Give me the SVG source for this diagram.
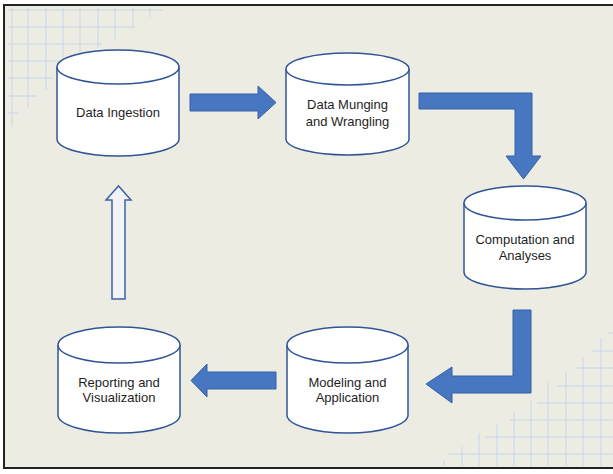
<svg xmlns="http://www.w3.org/2000/svg" width="613" height="474" viewBox="0 0 613 474">
<style>
.cyl{fill:#ffffff;stroke:#2f5597;stroke-width:1.5}
.arr{fill:#4677c0;stroke:#3561a8;stroke-width:1}
.hol{fill:#f3f3f5;stroke:#3b63a6;stroke-width:1.5}
.grid line{stroke:#c6d6ea;stroke-width:1}
text{font-family:"Liberation Sans",Arial,sans-serif;font-size:13px;fill:#1e1e1e;text-anchor:middle}
</style>
<rect x="0" y="0" width="613" height="474" fill="#ffffff"/>
<rect x="4" y="5" width="620" height="463" fill="#edece2" stroke="#222222" stroke-width="2"/>
<g class="grid">
<line x1="8" y1="10" x2="163" y2="10"/>
<line x1="8" y1="27" x2="135" y2="27"/>
<line x1="8" y1="44" x2="102" y2="44"/>
<line x1="8" y1="61" x2="88" y2="61"/>
<line x1="8" y1="78" x2="53" y2="78"/>
<line x1="8" y1="96" x2="37" y2="96"/>
<line x1="8" y1="113" x2="18" y2="113"/>
<line x1="12" y1="8" x2="12" y2="127"/>
<line x1="28" y1="8" x2="28" y2="108"/>
<line x1="46" y1="8" x2="46" y2="90"/>
<line x1="63" y1="8" x2="63" y2="73"/>
<line x1="80" y1="8" x2="80" y2="60"/>
<line x1="98" y1="8" x2="98" y2="48"/>
<line x1="115" y1="8" x2="115" y2="40"/>
<line x1="133" y1="8" x2="133" y2="27"/>
<line x1="150" y1="8" x2="150" y2="17"/>
<line x1="448" y1="454" x2="613" y2="454"/>
<line x1="485" y1="437" x2="613" y2="437"/>
<line x1="510" y1="420" x2="613" y2="420"/>
<line x1="537" y1="403" x2="613" y2="403"/>
<line x1="557" y1="386" x2="613" y2="386"/>
<line x1="575" y1="368" x2="613" y2="368"/>
<line x1="592" y1="351" x2="613" y2="351"/>
<line x1="608" y1="333" x2="613" y2="333"/>
<line x1="444" y1="460" x2="444" y2="466"/>
<line x1="462" y1="447" x2="462" y2="466"/>
<line x1="479" y1="433" x2="479" y2="466"/>
<line x1="497" y1="424" x2="497" y2="466"/>
<line x1="514" y1="412" x2="514" y2="466"/>
<line x1="531" y1="400" x2="531" y2="466"/>
<line x1="548" y1="383" x2="548" y2="466"/>
<line x1="566" y1="372" x2="566" y2="466"/>
<line x1="583" y1="357" x2="583" y2="466"/>
<line x1="601" y1="338" x2="601" y2="466"/>
</g>
<g id="connectors">
<polygon class="arr" points="190,94 258,94 258,86 276,102.5 258,119 258,111 190,111"/>
<polygon class="arr" points="419,93 532,93 532,156 541,156 523.5,179 506,156 515,156 515,109 419,109"/>
<polygon class="arr" points="513,310 531,310 531,393 452,393 452,403 426,384 452,367 452,376 513,376"/>
<polygon class="arr" points="276,372 207,372 207,364 191,380.5 207,397 207,389 276,389"/>
<polygon class="hol" points="112,299 112,200 106,200 118.5,186 131,200 125,200 125,299"/>
</g>
<g id="data-ingestion">
<path class="cyl" d="M57,67 L57,139 A61,17 0 0 0 179,139 L179,67"/>
<ellipse class="cyl" cx="118" cy="67" rx="61" ry="17"/>
<text x="118" y="116.5">Data Ingestion</text>
</g>
<g id="data-munging">
<path class="cyl" d="M286,69 L286,139 A61.5,16 0 0 0 409,139 L409,69"/>
<ellipse class="cyl" cx="347.5" cy="69" rx="61.5" ry="16"/>
<text x="347.5" y="108.5">Data Munging</text>
<text x="347.5" y="125.5">and Wrangling</text>
</g>
<g id="computation">
<path class="cyl" d="M464,203 L464,272 A61,17 0 0 0 586,272 L586,203"/>
<ellipse class="cyl" cx="525" cy="203" rx="61" ry="17"/>
<text x="525" y="243.5">Computation and</text>
<text x="525" y="259.5">Analyses</text>
</g>
<g id="modeling">
<path class="cyl" d="M287,345 L287,415 A60.5,18 0 0 0 408,415 L408,345"/>
<ellipse class="cyl" cx="347.5" cy="345" rx="60.5" ry="18"/>
<text x="347.5" y="386.5">Modeling and</text>
<text x="347.5" y="402">Application</text>
</g>
<g id="reporting">
<path class="cyl" d="M58,345 L58,415 A61,18 0 0 0 180,415 L180,345"/>
<ellipse class="cyl" cx="119" cy="345" rx="61" ry="18"/>
<text x="119" y="386.5">Reporting and</text>
<text x="119" y="402">Visualization</text>
</g>
</svg>
